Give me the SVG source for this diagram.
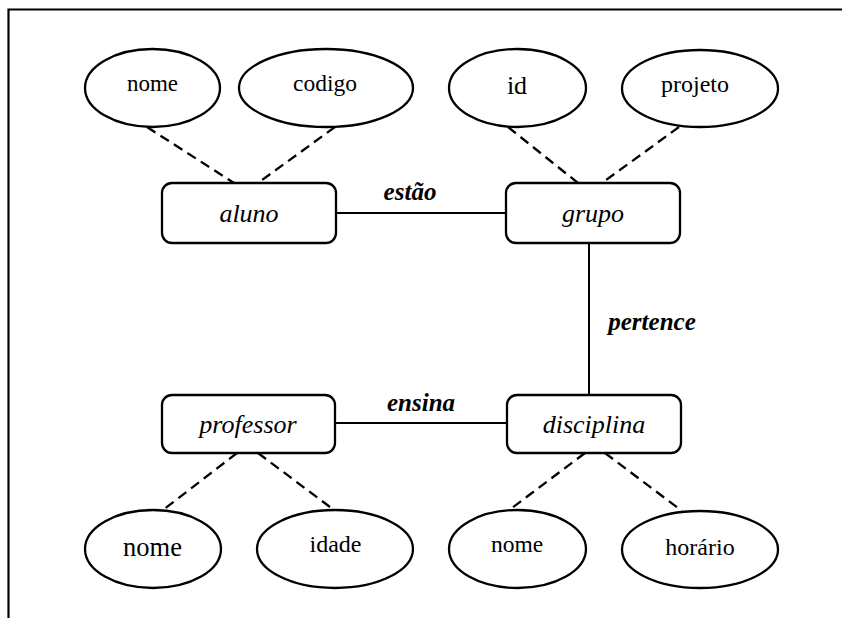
<svg xmlns="http://www.w3.org/2000/svg" width="842" height="618" viewBox="0 0 842 618" font-family="'Liberation Serif', 'Times New Roman', Tinos, 'DejaVu Serif', serif">
  <style>
    .frame { fill: none; stroke: #000; stroke-width: 2.2; }
    .ent rect { fill: #fff; stroke: #000; stroke-width: 2.3; }
    .attr ellipse { fill: #fff; stroke: #000; stroke-width: 2.3; }
    .rel { stroke: #000; stroke-width: 2; fill: none; }
    .dash { stroke: #000; stroke-width: 2.3; stroke-dasharray: 10 6; fill: none; }
    text { fill: #000; text-anchor: middle; }
    .ent text { font-style: italic; font-size: 26px; }
    .attr text { font-size: 23px; }
    .lbl { font-style: italic; font-weight: bold; font-size: 25px; }
  </style>
  <rect width="842" height="618" fill="#fff"/>
  <path class="frame" d="M 8.5 618 V 9.5 H 842"/>

  <!-- relationships and attribute links -->
  <g id="connectors">
    <line class="rel" x1="336" y1="213" x2="506" y2="213"/>
    <line class="rel" x1="589" y1="243" x2="589" y2="395"/>
    <line class="rel" x1="335" y1="423" x2="507" y2="423"/>

    <line class="dash" x1="147" y1="127" x2="234" y2="183"/>
    <line class="dash" x1="335" y1="127" x2="258" y2="183"/>
    <line class="dash" x1="508" y1="127" x2="578" y2="183"/>
    <line class="dash" x1="679" y1="127" x2="602" y2="183"/>

    <line class="dash" x1="237" y1="453" x2="163" y2="510"/>
    <line class="dash" x1="258" y1="453" x2="334" y2="510"/>
    <line class="dash" x1="585" y1="453" x2="508" y2="511"/>
    <line class="dash" x1="605" y1="453" x2="682" y2="511"/>

    <text class="lbl" x="410" y="200">estão</text>
    <text class="lbl" x="652" y="330">pertence</text>
    <text class="lbl" x="421" y="411">ensina</text>
  </g>

  <!-- entities -->
  <g id="aluno" class="ent">
    <rect x="162" y="183" width="174" height="60" rx="10"/>
    <text x="249" y="222">aluno</text>
  </g>
  <g id="grupo" class="ent">
    <rect x="506" y="183" width="174" height="60" rx="10"/>
    <text x="593" y="222">grupo</text>
  </g>
  <g id="professor" class="ent">
    <rect x="162" y="395" width="173" height="58" rx="10"/>
    <text x="248" y="433">professor</text>
  </g>
  <g id="disciplina" class="ent">
    <rect x="507" y="395" width="174" height="58" rx="10"/>
    <text x="594" y="433">disciplina</text>
  </g>

  <!-- attributes -->
  <g id="aluno-nome" class="attr">
    <ellipse cx="152.5" cy="88" rx="67.5" ry="39"/>
    <text x="152.5" y="91">nome</text>
  </g>
  <g id="aluno-codigo" class="attr">
    <ellipse cx="326" cy="88" rx="87" ry="39"/>
    <text x="325" y="91" style="font-size:23.5px">codigo</text>
  </g>
  <g id="grupo-id" class="attr">
    <ellipse cx="517.5" cy="88" rx="68.5" ry="39"/>
    <text x="517" y="94" style="font-size:26px">id</text>
  </g>
  <g id="grupo-projeto" class="attr">
    <ellipse cx="700" cy="88.5" rx="78" ry="38.5"/>
    <text x="695" y="92" style="font-size:24px">projeto</text>
  </g>
  <g id="professor-nome" class="attr">
    <ellipse cx="153" cy="549" rx="68" ry="39"/>
    <text x="152.5" y="556" style="font-size:26.5px">nome</text>
  </g>
  <g id="professor-idade" class="attr">
    <ellipse cx="335" cy="549" rx="78" ry="39"/>
    <text x="335.5" y="552" style="font-size:24px">idade</text>
  </g>
  <g id="disciplina-nome" class="attr">
    <ellipse cx="517.5" cy="549" rx="68.5" ry="39"/>
    <text x="517" y="552" style="font-size:23.5px">nome</text>
  </g>
  <g id="disciplina-horario" class="attr">
    <ellipse cx="700" cy="549.5" rx="78" ry="38.5"/>
    <text x="700" y="555" style="font-size:24px">horário</text>
  </g>
</svg>
